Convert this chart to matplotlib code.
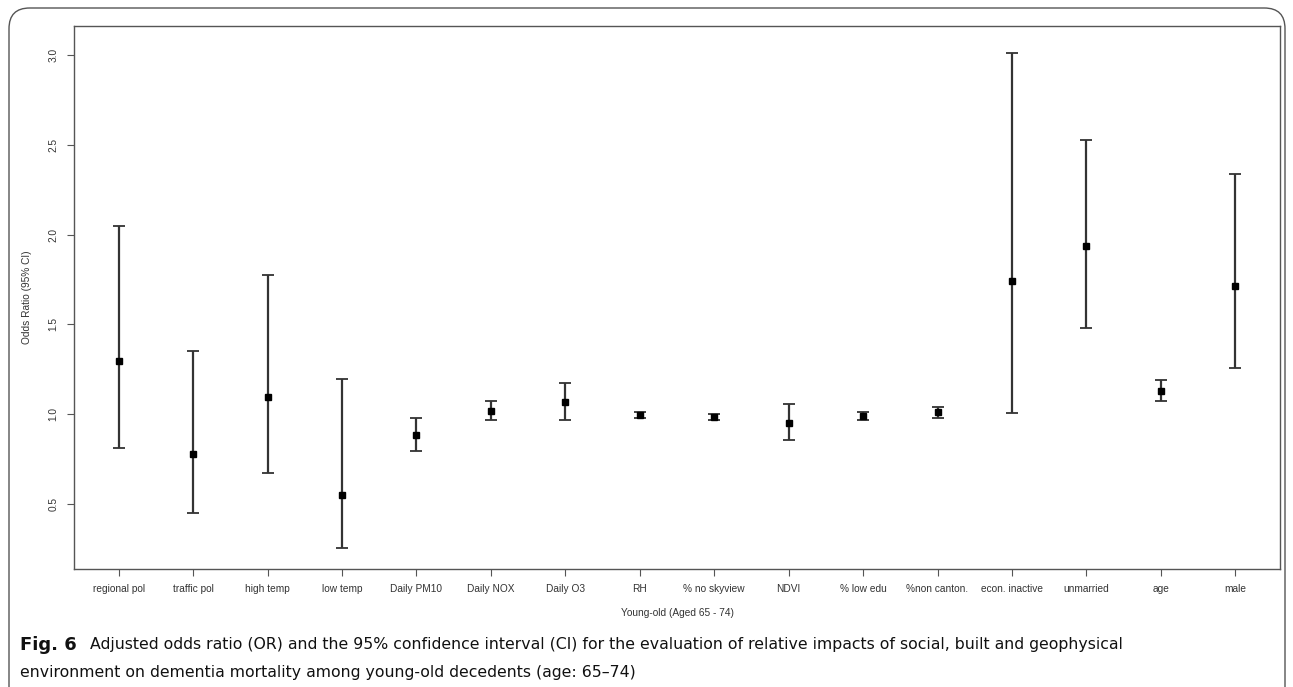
import numpy as np
import matplotlib.pyplot as plt
from matplotlib.patches import FancyBboxPatch

# 변수 이름 / OR / 95% CI
labels = ["regional pol", "traffic pol", "high temp", "low temp", "Daily PM10",
          "Daily NOX", "Daily O3", "RH", "% no skyview", "NDVI", "% low edu",
          "%non canton.", "econ. inactive", "unmarried", "age", "male"]
odds = [1.295, 0.777, 1.096, 0.55, 0.882, 1.02, 1.065, 0.995, 0.986, 0.953,
        0.99, 1.01, 1.74, 1.935, 1.131, 1.712]
ci_low = [0.813, 0.452, 0.672, 0.255, 0.795, 0.97, 0.968, 0.978, 0.969, 0.858,
          0.966, 0.98, 1.005, 1.48, 1.072, 1.256]
ci_high = [2.05, 1.35, 1.777, 1.195, 0.978, 1.075, 1.175, 1.012, 1.003, 1.055,
           1.013, 1.04, 3.011, 2.525, 1.188, 2.337]
yticks = [0.5, 1.0, 1.5, 2.0, 2.5, 3.0]

plt.rcParams["font.family"] = ["Liberation Sans", "DejaVu Sans"]

fig = plt.figure(figsize=(12.93, 6.87), dpi=100)
ax = fig.add_axes([74 / 1293, 1 - 569 / 687, (1280 - 74) / 1293, (569 - 26) / 687])

x = np.arange(1, len(labels) + 1)
odds = np.asarray(odds)
yerr = np.vstack([odds - np.asarray(ci_low), np.asarray(ci_high) - odds])
ax.errorbar(x, odds, yerr=yerr, fmt="s", color="#000000", ecolor="#333333",
            elinewidth=1.6, capsize=4.5, capthick=1.3, markersize=3.8)

ax.set_xlim(0.4, 16.6)
ax.set_ylim(0.138, 3.161)
ax.set_xticks(x)
ax.set_xticklabels(labels, fontsize=7.3, color="#333333")
ax.set_yticks(yticks)
ax.set_yticklabels([f"{v:.1f}" for v in yticks], rotation=90, va="center",
                   fontsize=7.3, color="#333333")
ax.tick_params(length=5, width=0.8, color="#555555", pad=6)
for s in ax.spines.values():
    s.set_color("#555555")
    s.set_linewidth(1.0)

ax.set_xlabel("Young-old (Aged 65 - 74)", fontsize=7.3, color="#333333", labelpad=10)
ax.set_ylabel("Odds Ratio (95% CI)", fontsize=7.3, color="#333333", labelpad=12)

# 바깥 둥근 테두리
box = FancyBboxPatch((9 / 1293, -0.05), 1276 / 1293, (1 - 8 / 687) + 0.05,
                     boxstyle="round,pad=0,rounding_size=0.016",
                     transform=fig.transFigure, fill=False,
                     edgecolor="#555555", linewidth=1.0, clip_on=False,
                     mutation_aspect=1293 / 687)
fig.patches.append(box)

cap_font = ["DejaVu Sans"]
fig.text(20 / 1293, 1 - 645 / 687, "Fig. 6", fontsize=13, fontweight="bold",
         family=cap_font, va="center", color="#111111")
fig.text(90 / 1293, 1 - 645 / 687,
         "Adjusted odds ratio (OR) and the 95% confidence interval (CI) for the evaluation of relative impacts of social, built and geophysical",
         fontsize=11.35, family=cap_font, va="center", color="#111111")
fig.text(20 / 1293, 1 - 673 / 687,
         "environment on dementia mortality among young-old decedents (age: 65\u201374)",
         fontsize=11.35, family=cap_font, va="center", color="#111111")

fig.savefig("out.png", dpi=100)
